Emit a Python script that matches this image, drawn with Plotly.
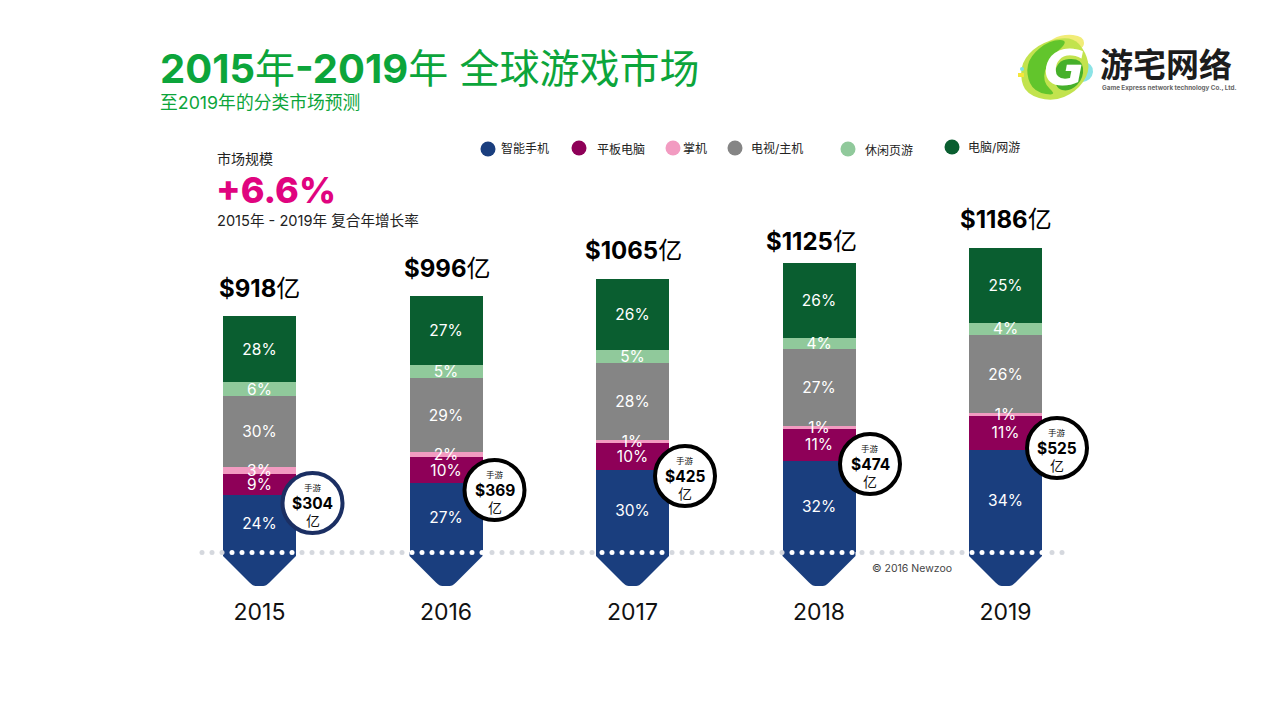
import plotly.graph_objects as go

years = [2015, 2016, 2017, 2018, 2019]
totals = [918, 996, 1065, 1125, 1186]
mobile_totals = [304, 369, 425, 474, 525]

segment_names = ["智能手机", "平板电脑", "掌机", "电视/主机", "休闲页游", "电脑/网游"]
phone_share = [24, 27, 30, 32, 34]
tablet_share = [9, 10, 10, 11, 11]
handheld_share = [3, 2, 1, 1, 1]
console_share = [30, 29, 28, 27, 26]
casual_share = [6, 5, 5, 4, 4]
pc_share = [28, 27, 26, 26, 25]

# page layout in pixels, everything below goes through these
W, H = 1280, 720
BASE_PX = 552
PLOT_BOTTOM = 596
X_STEP = 186.5
X_FIRST = 259.5
Y_SCALE = 0.2567
BAR_W = 73

LATIN = "Inter, 'Noto Sans CJK SC', sans-serif"
GREEN = "#0ca53b"
colors = ["#1a3e7e", "#8e0058", "#f29bc1", "#858585", "#90c99b", "#0a5e30"]


def xd(px):
    return 2015 + (px - X_FIRST) / X_STEP


def yd(py):
    return (BASE_PX - py) / Y_SCALE


def label(px, py, text, size, color="#111111", anchor="center", family=LATIN, weight=None):
    fig.add_annotation(x=xd(px), y=yd(py), xref="x", yref="y", text=text, showarrow=False,
                       xanchor=anchor, yanchor="middle", borderpad=0,
                       font=dict(size=size, color=color, family=family, weight=weight))


def blob(points):
    # closed curve through the midpoints of the given corners
    mids = [((a[0] + b[0]) / 2, (a[1] + b[1]) / 2) for a, b in zip(points, points[1:] + points[:1])]
    path = f"M {xd(mids[-1][0])},{yd(mids[-1][1])}"
    for corner, mid in zip(points, mids):
        path += f" Q {xd(corner[0])},{yd(corner[1])} {xd(mid[0])},{yd(mid[1])}"
    return path + " Z"


fig = go.Figure()

shares = [phone_share, tablet_share, handheld_share, console_share, casual_share, pc_share]
year_sums = [sum(s[i] for s in shares) for i in range(len(years))]

for name, share, color in zip(segment_names, shares, colors):
    fig.add_trace(go.Bar(
        x=years,
        y=[t * s / n for t, s, n in zip(totals, share, year_sums)],
        name=name,
        marker=dict(color=color, line=dict(width=0)),
        width=BAR_W / X_STEP,
    ))

# percent labels go in a text trace so the thin segments don't cut them off
running = [0] * len(years)
for share in shares:
    heights = [t * s / n for t, s, n in zip(totals, share, year_sums)]
    fig.add_trace(go.Scatter(
        x=years,
        y=[r + h / 2 - 1.5 / Y_SCALE for r, h in zip(running, heights)],
        mode="text",
        text=[f"{s}%" for s in share],
        textposition="middle center",
        textfont=dict(size=15.5, color="white", family=LATIN),
        showlegend=False,
    ))
    running = [r + h for r, h in zip(running, heights)]

# arrow heads under the baseline
for year in years:
    c = X_FIRST + (year - 2015) * X_STEP
    x0, x1 = c - BAR_W / 2, c + BAR_W / 2
    fig.add_shape(
        type="path", xref="x", yref="y", layer="below", line_width=0, fillcolor=colors[0],
        path=(f"M {xd(x0)},{yd(BASE_PX)} L {xd(x0)},{yd(556)} L {xd(c - 10)},{yd(582.5)} "
              f"Q {xd(c - 6)},{yd(586.5)} {xd(c - 3)},{yd(586)} L {xd(c + 3)},{yd(586)} "
              f"Q {xd(c + 6)},{yd(586.5)} {xd(c + 10)},{yd(582.5)} "
              f"L {xd(x1)},{yd(556)} L {xd(x1)},{yd(BASE_PX)} Z"),
    )

# dotted baseline, white where it crosses a bar
dots_px = list(range(202, 1065, 10))
bar_spans = [(X_FIRST + i * X_STEP - BAR_W / 2, X_FIRST + i * X_STEP + BAR_W / 2) for i in range(5)]
dot_colors = ["white" if any(a <= d <= b for a, b in bar_spans) else "#d5d8de" for d in dots_px]
fig.add_trace(go.Scatter(x=[xd(d) for d in dots_px], y=[yd(552.5)] * len(dots_px), mode="markers",
                         marker=dict(size=5, color=dot_colors), showlegend=False))

# mobile callouts
callout_x = [312.5, 494.5, 685, 870, 1057]
callout_y = [503, 490, 476, 464, 448]
ring_colors = ["#1b2f63", "#000000", "#000000", "#000000", "#000000"]
fig.add_trace(go.Scatter(x=[xd(a) for a in callout_x], y=[yd(b) for b in callout_y], mode="markers",
                         marker=dict(size=60, color="white", line=dict(width=4, color=ring_colors)),
                         showlegend=False))
for cx, cy, value in zip(callout_x, callout_y, mobile_totals):
    label(cx, cy - 15, "手游", 8.5)
    label(cx, cy, f"<b>${value}</b>", 15.5, "#000000")
    label(cx, cy + 17, "亿", 14)

# totals over the bars
total_dx = [0, 1, 1, -8, 0]
total_py = [288, 268, 250, 241, 219]
for i, total in enumerate(totals):
    label(X_FIRST + i * X_STEP + total_dx[i], total_py[i], f"<b>${total}</b>亿", 24, "#000000")

# hand placed legend, same uneven spacing as the slide
legend_dot_x = [488, 579, 673, 735, 848, 952]
legend_dot_y = [149, 148, 148, 148, 149, 147]
legend_text_x = [500, 596, 682, 750, 864, 967]
legend_text_y = [148, 149, 148, 148, 150, 147]
fig.add_trace(go.Scatter(x=[xd(a) for a in legend_dot_x], y=[yd(b) for b in legend_dot_y], mode="markers",
                         marker=dict(size=15, color=colors), showlegend=False))
for name, a, b in zip(segment_names, legend_text_x, legend_text_y):
    label(a, b, name, 12, "#222222", "left")

# headings
label(159, 68, "<b>2015</b>年<b>-2019</b>年 全球游戏市场", 40, GREEN, "left")
label(159, 102, "至2019年的分类市场预测", 17.8, GREEN, "left")
label(216, 158, "市场规模", 14, "#222222", "left")
label(215, 190, "+6.6%", 36, "#e0047f", "left", weight=800)
label(216, 221, "2015年 - 2019年 复合年增长率", 14.6, "#222222", "left")
label(871, 568, "© 2016 Newzoo", 10.5, "#444444", "left")

# logo
logo_shapes = [
    ("#f1ec78", [(1044, 44), (1062, 34), (1084, 36), (1084, 50), (1066, 46), (1050, 50)]),
    ("#8be3e6", [(1072, 58), (1094, 64), (1092, 80), (1074, 84)]),
    ("#c2e34e", [(1024, 58), (1042, 42), (1072, 36), (1086, 52), (1090, 72), (1076, 92), (1052, 102), (1026, 94), (1020, 76)]),
    ("#62c52c", [(1030, 56), (1050, 40), (1070, 40), (1048, 60), (1042, 82), (1058, 96), (1034, 92), (1026, 74)]),
    ("#46b02a", [(1056, 60), (1082, 58), (1084, 78), (1070, 92), (1054, 88)]),
]
for fill, points in logo_shapes:
    fig.add_shape(type="path", xref="x", yref="y", layer="below", line_width=0, fillcolor=fill, path=blob(points))
fig.add_shape(type="rect", xref="x", yref="y", layer="below", line_width=0, fillcolor="#f5e73b",
              x0=xd(1018), x1=xd(1024), y0=yd(77), y1=yd(73))
fig.add_shape(type="circle", xref="x", yref="y", layer="below", line_width=0, fillcolor="#7fe3ea",
              x0=xd(1020), x1=xd(1024), y0=yd(71), y1=yd(67))
label(1064, 68, "<b><i>G</i></b>", 50, "white", family="DejaVu Sans")
label(1099, 63, "<b>游宅网络</b>", 33, "#1c1c1c", "left", "'Noto Sans CJK SC'")
label(1101, 88, "<b>Game Express network technology Co., Ltd.</b>", 6.3, "#666666", "left")

fig.update_layout(
    width=W,
    height=H,
    barmode="stack",
    showlegend=False,
    hovermode=False,
    paper_bgcolor="white",
    plot_bgcolor="white",
    margin=dict(l=0, r=0, t=0, b=H - PLOT_BOTTOM),
    xaxis=dict(
        range=[xd(0), xd(W)],
        tickmode="array",
        tickvals=years,
        ticktext=[str(y) for y in years],
        tickfont=dict(size=23, color="#111111", family=LATIN),
        showgrid=False,
        zeroline=False,
        showline=False,
        ticks="",
    ),
    yaxis=dict(range=[yd(PLOT_BOTTOM), yd(0)], visible=False, showgrid=False, zeroline=False),
)

fig.write_html("out.html", post_script="document.body.style.margin='0';", config={"displayModeBar": False})
